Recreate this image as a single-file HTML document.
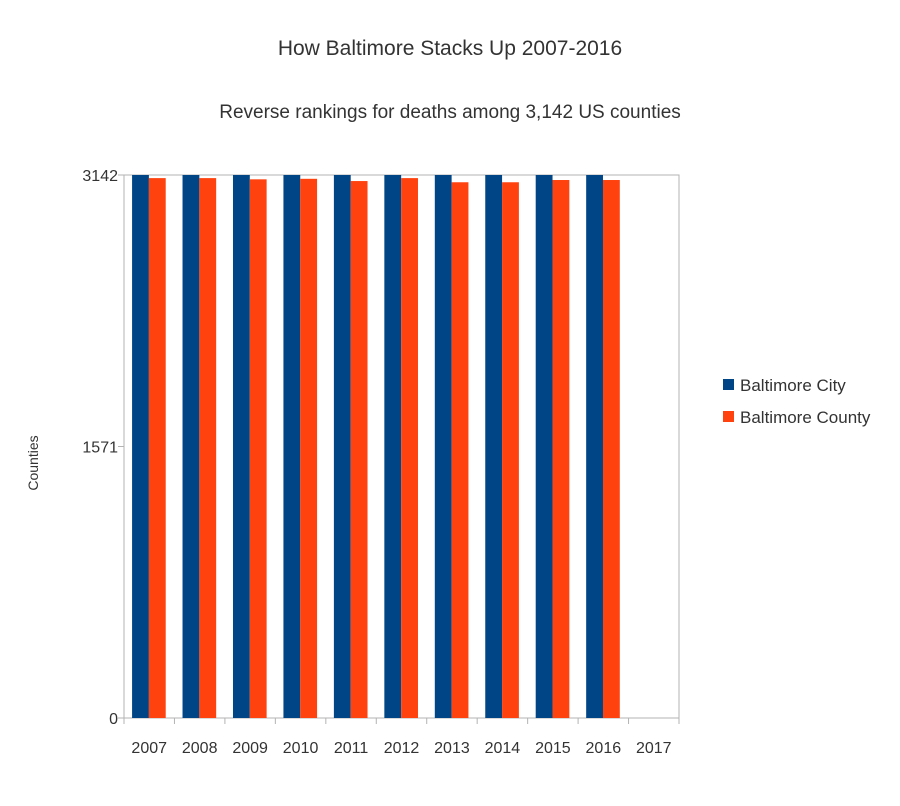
<!DOCTYPE html>
<html><head><meta charset="utf-8"><style>
body{margin:0;background:#fff;font-family:"Liberation Sans",sans-serif;}
</style></head><body>
<svg width="900" height="801" xmlns="http://www.w3.org/2000/svg" font-family="Liberation Sans, sans-serif">
<text x="450" y="55" text-anchor="middle" font-size="21" fill="#333">How Baltimore Stacks Up 2007-2016</text>
<text x="450" y="118" text-anchor="middle" font-size="19" fill="#333">Reverse rankings for deaths among 3,142 US counties</text>
<text transform="translate(38,463) rotate(-90)" text-anchor="middle" font-size="14" fill="#333">Counties</text>
<g id="plot"></g>
<g>
<rect x="723" y="379" width="11" height="11" fill="#004586"/>
<text x="740" y="391" font-size="17" fill="#333">Baltimore City</text>
<rect x="723" y="411" width="11" height="11" fill="#ff420e"/>
<text x="740" y="423" font-size="17" fill="#333">Baltimore County</text>
</g>
</svg>
<script>
const categories=["2007","2008","2009","2010","2011","2012","2013","2014","2015","2016","2017"];
const cityValues=[3142,3142,3142,3142,3142,3142,3142,3142,3142,3142,null];
const countyValues=[3124,3124,3117,3120,3107,3124,3100,3100,3113,3113,null];
const yTicks=[0,1571,3142];
const L=124,R=679,T=175,B=718,maxV=3142;
const y=v=>B-(v/maxV)*(B-T);
const cw=(R-L)/categories.length;
const x=i=>L+i*cw;
const g=document.getElementById('plot');
const NS="http://www.w3.org/2000/svg";
function mk(t,a){const e=document.createElementNS(NS,t);for(const k in a)e.setAttribute(k,a[k]);g.appendChild(e);return e;}
const frame=mk('rect',{x:L,y:T,width:R-L,height:B-T,fill:'none',stroke:'#b3b3b3'});


yTicks.forEach(v=>{
 const t=mk('line',{x1:L-6,x2:L,y1:y(v),y2:y(v),stroke:'#b3b3b3'});
 
 
 const l=mk('text',{x:L-6,y:y(v)+6,'text-anchor':'end','font-size':16,fill:'#333'});
 l.textContent=v;
 
 
});
for(let i=0;i<=categories.length;i++){
 const t=mk('line',{x1:x(i),x2:x(i),y1:B,y2:B+6,stroke:'#b3b3b3'});
 
 
}
categories.forEach((c,i)=>{
 const l=mk('text',{x:x(i)+cw/2,y:B+35,'text-anchor':'middle','font-size':16,fill:'#333'});
 l.textContent=c;
 
 
 const bw=cw/3;
 if(cityValues[i]!=null){
  const b=mk('rect',{x:x(i)+cw*0.16,y:y(cityValues[i]),width:bw,height:B-y(cityValues[i]),fill:'#004586'});
  
  
 }
 if(countyValues[i]!=null){
  const b=mk('rect',{x:x(i)+cw*0.16+bw,y:y(countyValues[i]),width:bw,height:B-y(countyValues[i]),fill:'#ff420e'});
  
  
 }
});
</script>
</body></html>
